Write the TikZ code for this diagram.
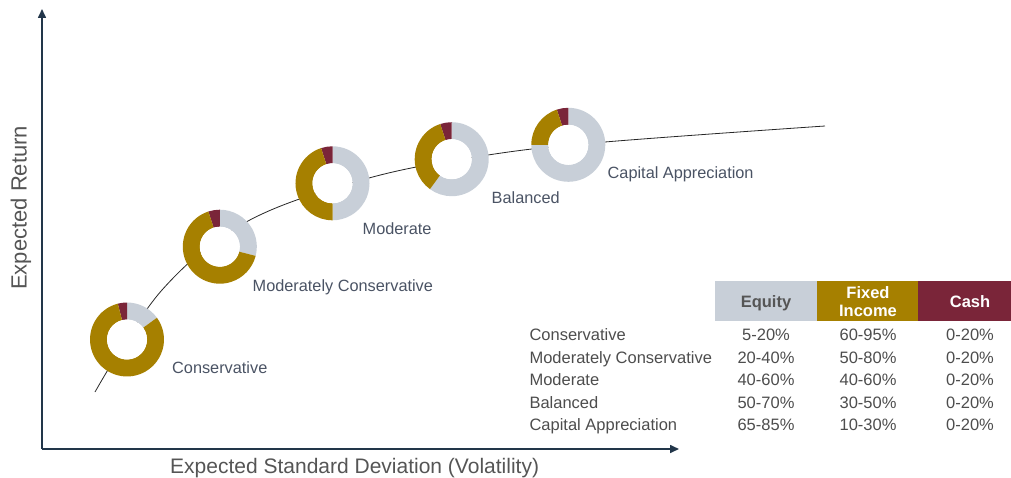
\documentclass[tikz,border=0pt]{standalone}
\usepackage{fontspec}
\setmainfont{Liberation Sans}
\usetikzlibrary{arrows.meta}
\definecolor{eqgray}{HTML}{C8CFD8}
\definecolor{figold}{HTML}{A68000}
\definecolor{cashred}{HTML}{7A2539}
\definecolor{axisblue}{HTML}{22364A}
\definecolor{labtxt}{HTML}{4A5364}
\definecolor{tabtxt}{HTML}{4D4D4D}
\definecolor{axtxt}{HTML}{555555}
\newcommand{\mydonut}[3]{%
  \pgfmathsetmacro{\dnE}{90-3.6*#2}%
  \pgfmathsetmacro{\dnC}{90+3.6*#3}%
  \pgfmathsetmacro{\dnG}{450-3.6*#2}%
  \fill[eqgray] ([shift={(90:37pt)}]#1) arc[start angle=90,end angle=\dnE,radius=37pt]
     -- ([shift={(\dnE:20pt)}]#1) arc[start angle=\dnE,end angle=90,radius=20pt] -- cycle;
  \fill[cashred] ([shift={(90:37pt)}]#1) arc[start angle=90,end angle=\dnC,radius=37pt]
     -- ([shift={(\dnC:20pt)}]#1) arc[start angle=\dnC,end angle=90,radius=20pt] -- cycle;
  \fill[figold] ([shift={(\dnC:37pt)}]#1) arc[start angle=\dnC,end angle=\dnG,radius=37pt]
     -- ([shift={(\dnG:20pt)}]#1) arc[start angle=\dnG,end angle=\dnC,radius=20pt] -- cycle;
  \fill[white] (#1) circle[radius=20pt];
}
\begin{document}
\begin{tikzpicture}[x=1pt,y=-1pt,
  axislab/.style={font=\fontsize{21}{24}\selectfont, text=axtxt, inner sep=0pt},
  chartlab/.style={font=\fontsize{16.3}{18}\selectfont, text=labtxt, inner sep=0pt, anchor=base west},
  rowlab/.style={font=\fontsize{16.5}{18}\selectfont, text=tabtxt, inner sep=0pt, anchor=base west},
  valtxt/.style={font=\fontsize{16.5}{18}\selectfont, text=tabtxt, inner sep=0pt, anchor=base},
  headtxt/.style={font=\fontsize{16.5}{18}\selectfont\bfseries, inner sep=0pt, anchor=base},
  axisline/.style={draw=axisblue, line width=1.6pt, -{Triangle[length=9pt,width=8pt]}}
]
\useasboundingbox (0,0) rectangle (1011,478);
% axes
\coordinate (origin) at (42,449);
\coordinate (ytop) at (42,9);
\coordinate (xend) at (679,449);
\draw[axisline] (origin) -- (ytop);
\draw[axisline] (origin) -- (xend);
\node[axislab, anchor=base west] (xlab) at (170,473.3) {Expected Standard Deviation (Volatility)};
\node[axislab, anchor=base west, rotate=90, font=\fontsize{22}{24}\selectfont] (ylab) at (26.5,290) {Expected Return};
% curve
\draw[black!85, line width=0.8pt] plot[smooth, tension=0.6] coordinates {
 (95,392) (162,290) (248,221) (369,178) (488,155) (605,142) (825,126)};
% donuts
\coordinate (d1) at (127,339.5);
\coordinate (d2) at (219.8,246.7);
\coordinate (d3) at (332.5,183.3);
\coordinate (d4) at (451.7,159.2);
\coordinate (d5) at (568.3,144.8);
\mydonut{d1}{15}{4}
\mydonut{d2}{29}{5}
\mydonut{d3}{50}{5}
\mydonut{d4}{60}{5}
\mydonut{d5}{75}{5}
% chart labels
\node[chartlab] (l1) at (172,373.5) {Conservative};
\node[chartlab] (l2) at (252.5,291) {Moderately Conservative};
\node[chartlab] (l3) at (362.5,234.5) {Moderate};
\node[chartlab] (l4) at (491.5,203.3) {Balanced};
\node[chartlab] (l5) at (607.5,178.3) {Capital Appreciation};
% table header
\fill[eqgray] (715,280.5) rectangle (817,321);
\fill[figold] (817,280.5) rectangle (918,321);
\fill[cashred] (918,280.5) rectangle (1020,321);
\node[headtxt, text=axtxt] (hE) at (766,307.5) {Equity};
\node[headtxt, text=white] (hF1) at (868,298.3) {Fixed};
\node[headtxt, text=white] (hF2) at (868,316.7) {Income};
\node[headtxt, text=white] (hC) at (970,307.5) {Cash};
% rows
\foreach \i/\nm/\e/\f in {0/Conservative/5-20\%/60-95\%,
  1/Moderately Conservative/20-40\%/50-80\%,
  2/Moderate/40-60\%/40-60\%,
  3/Balanced/50-70\%/30-50\%,
  4/Capital Appreciation/65-85\%/10-30\%}{
  \pgfmathsetmacro{\yy}{340.8+22.4*\i}
  \node[rowlab] (r\i) at (529.3,\yy) {\nm};
  \node[valtxt] (e\i) at (766,\yy) {\e};
  \node[valtxt] (f\i) at (868,\yy) {\f};
  \node[valtxt] (c\i) at (970,\yy) {0-20\%};
}
\end{tikzpicture}
\end{document}
